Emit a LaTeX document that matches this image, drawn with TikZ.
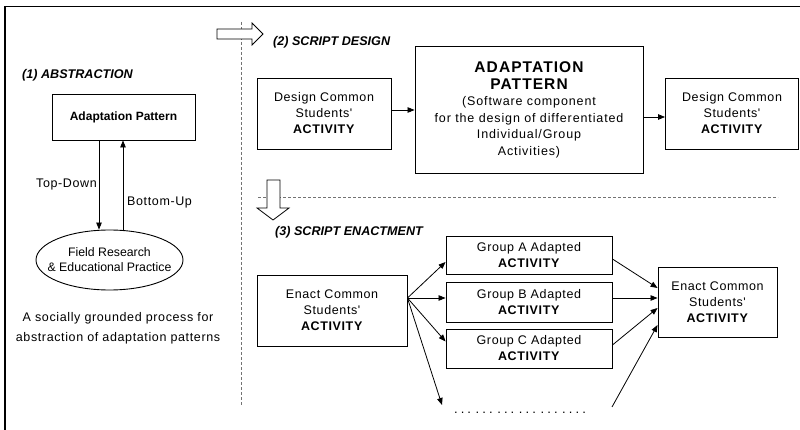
\documentclass[tikz,border=0pt]{standalone}
\usepackage{fontspec}
\setmainfont{Liberation Sans}
\newfontfamily\spc[LetterSpace=5]{Liberation Sans}
\newfontfamily\spcw[LetterSpace=7]{Liberation Sans}
\usetikzlibrary{arrows.meta,shapes.geometric}
\newcommand\dd{.\kern3.1pt}
\newcommand\dgap{\kern4.6pt}
\newcommand\bigb[1]{{\bfseries\fontsize{15.5}{20}\selectfont #1}}
\begin{document}
\begin{tikzpicture}[x=1pt,y=-1pt,
  box/.style={draw, line width=0.9pt, inner sep=0pt, align=center, font=\spc\fontsize{12.5}{16}\selectfont},
  arr/.style={-{Triangle[length=7pt,width=5.5pt]}, line width=0.8pt},
  ttl/.style={font=\bfseries\itshape\fontsize{12.6}{14}\selectfont, inner sep=0pt, anchor=west},
  lbl/.style={font=\spc\fontsize{12.5}{15}\selectfont, inner sep=0pt},
  sep/.style={draw=black!55, dash pattern=on 3pt off 2pt, line width=0.9pt},
  blk/.style={draw, line width=0.8pt, fill=white}]
\useasboundingbox[fill=white] (0,0) rectangle (800,430);
% frame (cropped)
\draw[line width=1.6pt] (5,430) -- (5,6.5) -- (800,6.5);

% ---------- (1) ABSTRACTION ----------
\node[ttl] (t1) at (22,75) {(1) ABSTRACTION};
\node[box, minimum width=143, minimum height=46, font=\bfseries\fontsize{12}{14}\selectfont] (ap) at (123.5,117) {Adaptation Pattern};
\node[draw, line width=0.9pt, ellipse, minimum width=147, minimum height=60] (ell) at (109.5,260) {};
\node[inner sep=0pt, align=center, font=\fontsize{12.3}{15}\selectfont] (elltxt) at (ell.center) {Field Research\\\& Educational Practice};
\coordinate (tdx) at (99,0);
\coordinate (bux) at (123,0);
\draw[arr] (tdx |- ap.south) -- (tdx |- ell.north);
\draw[arr] (bux |- ell.north) -- (bux |- ap.south);
\node[lbl, anchor=east] (tdl) at (97,184) {Top-Down};
\node[lbl, anchor=west] (bul) at (127,202) {Bottom-Up};
\node[lbl, align=center, font=\spc\fontsize{12.5}{20}\selectfont] (cap) at (118,328) {A socially grounded process for\\abstraction of adaptation patterns};

% separators
\draw[sep] (241,22) -- (241,405);
\draw[sep] (258,197) -- (778,197);

% block arrows
\draw[blk] (217,29) -- (252,29) -- (252,23) -- (263,34) -- (252,45) -- (252,39) -- (217,39) -- cycle;
\draw[blk] (267,180) -- (280,180) -- (280,208) -- (289,208) -- (273,220) -- (257,208) -- (267,208) -- cycle;

% ---------- (2) SCRIPT DESIGN ----------
\node[ttl] (t2) at (273,42) {(2) SCRIPT DESIGN};
\node[box, minimum width=134, minimum height=71] (d1) at (324,113.5) {Design Common\\Students'\\\textbf{ACTIVITY}};
\node[box, minimum width=228, minimum height=127, font=\spcw\fontsize{12.5}{16.5}\selectfont] (ap2) at (529,110) {\bigb{ADAPTATION}\\\bigb{PATTERN}\\(Software component\\for the design of differentiated\\Individual/Group\\Activities)};
\node[box, minimum width=133, minimum height=71] (d2) at (732,113.5) {Design Common\\Students'\\\textbf{ACTIVITY}};
\coordinate (a1s) at ([yshift=3.5pt]d1.east);
\coordinate (a2e) at ([yshift=-3.5pt]d2.west);
\draw[arr] (a1s) -- (ap2.west |- a1s);
\draw[arr] (ap2.east |- a2e) -- (a2e);

% ---------- (3) SCRIPT ENACTMENT ----------
\node[ttl] (t3) at (275,232) {(3) SCRIPT ENACTMENT};
\node[box, minimum width=150, minimum height=71] (e1) at (332,310.5) {Enact Common\\Students'\\\textbf{ACTIVITY}};
\node[box, minimum width=166, minimum height=38] (ga) at (529,255) {Group A Adapted\\\textbf{ACTIVITY}};
\node[box, minimum width=166, minimum height=40] (gb) at (529,302) {Group B Adapted\\\textbf{ACTIVITY}};
\node[box, minimum width=166, minimum height=39] (gc) at (529,348.5) {Group C Adapted\\\textbf{ACTIVITY}};
\node[box, minimum width=119, minimum height=70] (e2) at (717.5,302) {Enact Common\\Students'\\\textbf{ACTIVITY}};
\node[inner sep=0pt, font=\fontsize{13}{15}\selectfont] (dots) at (520,413) {\dd\dd.\dgap\dd\dd.\dgap\dd\dd.\dgap\dd\dd.\dgap\dd\dd.\dgap\dd\dd\dd.};
\coordinate (fan) at ([yshift=12.5pt]e1.east);
\coordinate (din) at (442,405);
\coordinate (dout) at (612,407);
\draw[arr] (fan) -- ([yshift=-7pt]ga.west);
\draw[arr] (fan) -- (fan -| gb.west);
\draw[arr] (fan) -- ([yshift=7pt]gc.west);
\draw[arr] (fan) -- (din);
\draw[arr] ([yshift=-4pt]ga.east) -- ([yshift=14pt]e2.west);
\draw[arr] ([yshift=4pt]gb.east) -- ([yshift=4pt]e2.west);
\draw[arr] ([yshift=3.5pt]gc.east) -- ([yshift=-6pt]e2.west);
\draw[arr] (dout) -- ([yshift=-23pt]e2.west);
\end{tikzpicture}
\end{document}
